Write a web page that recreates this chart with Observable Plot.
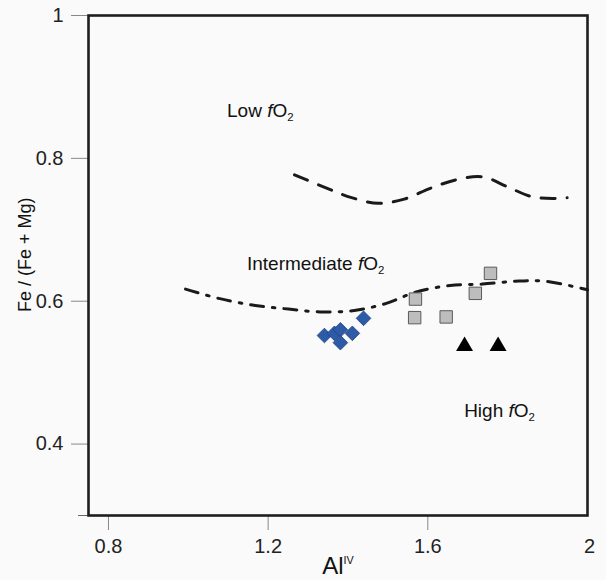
<!DOCTYPE html>
<html>
<head>
<meta charset="utf-8">
<script src="https://cdn.jsdelivr.net/npm/d3@7"></script>
<script src="https://cdn.jsdelivr.net/npm/@observablehq/plot@0.6"></script>
<style>
  html, body { margin: 0; padding: 0; background: #fafafa; }
</style>
</head>
<body>
<div id="chart"></div>
<script>
// ---- data ----
const xTicks = [0.8, 1.2, 1.6];
const xEndTick = [2];
const yTicks = [0.4, 0.6, 0.8, 1];

// Low / Intermediate boundary (dashed)
const lowLineX = [1.266, 1.348, 1.409, 1.476, 1.541, 1.606, 1.671, 1.738, 1.800, 1.863, 1.932, 1.949];
const lowLineY = [0.777, 0.758, 0.745, 0.737, 0.743, 0.758, 0.770, 0.774, 0.760, 0.746, 0.744, 0.745];

// Intermediate / High boundary (dash-dot)
const highLineX = [0.993, 1.076, 1.168, 1.251, 1.331, 1.416, 1.496, 1.571, 1.656, 1.737, 1.819, 1.894, 2.0];
const highLineY = [0.617, 0.604, 0.594, 0.589, 0.585, 0.587, 0.597, 0.613, 0.622, 0.624, 0.628, 0.628, 0.616];

// samples
const diamondX = [1.341, 1.366, 1.381, 1.381, 1.411, 1.439];
const diamondY = [0.552, 0.555, 0.560, 0.542, 0.555, 0.576];

const squareX = [1.757, 1.569, 1.719, 1.567, 1.646];
const squareY = [0.639, 0.603, 0.611, 0.577, 0.578];

const triangleX = [1.692, 1.776];
const triangleY = [0.537, 0.537];

// region labels
const regionNames = ["Low fO2", "Intermediate fO2", "High fO2"];
const regionX = [1.097, 1.147, 1.691];
const regionY = [0.866, 0.652, 0.447];

const xLabel = "Al^IV";
const yLabel = "Fe / (Fe + Mg)";
const yLabelAt = {x: 0.592, y: 0.665};

// ---- build tables ----
const lowLine = lowLineX.map((x, i) => ({x, y: lowLineY[i]}));
const highLine = highLineX.map((x, i) => ({x, y: highLineY[i]}));
const diamonds = diamondX.map((x, i) => ({x, y: diamondY[i]}));
const squares = squareX.map((x, i) => ({x, y: squareY[i]}));
const triangles = triangleX.map((x, i) => ({x, y: triangleY[i]}));
const regions = regionNames.map((t, i) => ({t, x: regionX[i], y: regionY[i]}));

const font = "'Liberation Sans', Arial, Helvetica, sans-serif";

const chart = Plot.plot({
  width: 606,
  height: 580,
  marginLeft: 88,
  marginRight: 19,
  marginTop: 15,
  marginBottom: 65,
  x: {domain: [0.75, 2], axis: null},
  y: {domain: [0.3, 1], axis: null},
  style: {fontFamily: font, background: "#fafafa", color: "#222", overflow: "visible"},
  marks: [
    Plot.axisX({ticks: xTicks, tickSize: 15, tickPadding: 8, stroke: "#888", fill: "#222",
      fontSize: 20, tickFormat: d => String(d), label: null}),
    Plot.axisX({ticks: xEndTick, tickSize: 0, tickPadding: 23, fill: "#222", dx: 2,
      fontSize: 20, tickFormat: d => String(d), label: null}),
    Plot.axisY({ticks: yTicks, tickSize: 17, tickPadding: 8, stroke: "#888", fill: "#222",
      fontSize: 20, tickFormat: d => String(d), label: null}),
    Plot.axisY({ticks: [0.3], tickSize: 10, stroke: "#666", tickFormat: () => "", label: null}),
    Plot.frame({stroke: "#1e1e1e", strokeWidth: 2.6}),
    Plot.line(lowLine, {x: "x", y: "y", curve: "catmull-rom", stroke: "#1a1a1a",
      strokeWidth: 3, strokeDasharray: "14,12"}),
    Plot.line(highLine, {x: "x", y: "y", curve: "catmull-rom", stroke: "#1a1a1a",
      strokeWidth: 3, strokeDasharray: "13,9,2.5,9"}),
    Plot.dot(squares, {x: "x", y: "y", symbol: "square", r: 7, fill: "#bdbdbd", stroke: "#5a5a5a", strokeWidth: 1}),
    Plot.dot(diamonds, {x: "x", y: "y", symbol: "diamond2", r: 6.6, fill: "#2d5ba8", stroke: "#1f437f", strokeWidth: 0.8}),
    Plot.dot(triangles, {x: "x", y: "y", symbol: "triangle", r: 6.3, fill: "#000", stroke: "none"}),
    Plot.text(regions, {x: "x", y: "y", text: "t", textAnchor: "start", fontSize: 19, fill: "#111"}),
    Plot.text([xLabel], {frameAnchor: "bottom", text: d => d, dy: 58, fontSize: 24, fill: "#111"}),
    Plot.text([yLabel], {x: () => yLabelAt.x, y: () => yLabelAt.y, text: d => d, rotate: -90, fontSize: 18, fill: "#111"})
  ]
});

// rich text: italic f, subscript 2, superscript IV
const NS = "http://www.w3.org/2000/svg";
function span(parent, str, attrs) {
  const s = document.createElementNS(NS, "tspan");
  s.textContent = str;
  for (const k in attrs) s.setAttribute(k, attrs[k]);
  parent.appendChild(s);
  return s;
}
chart.querySelectorAll("text").forEach(t => {
  const s = t.textContent;
  if (s.endsWith(" fO2")) {
    t.textContent = "";
    span(t, s.slice(0, -3));
    span(t, "f", {"font-style": "italic"});
    span(t, "O");
    span(t, "2", {"font-size": "0.6em", "dy": "0.35em"});
  } else if (s.includes("^")) {
    const [a, b] = s.split("^");
    t.textContent = "";
    span(t, a);
    span(t, b, {"font-size": "0.45em", "dy": "-0.9em"});
  }
});

document.getElementById("chart").appendChild(chart);
</script>
</body>
</html>
